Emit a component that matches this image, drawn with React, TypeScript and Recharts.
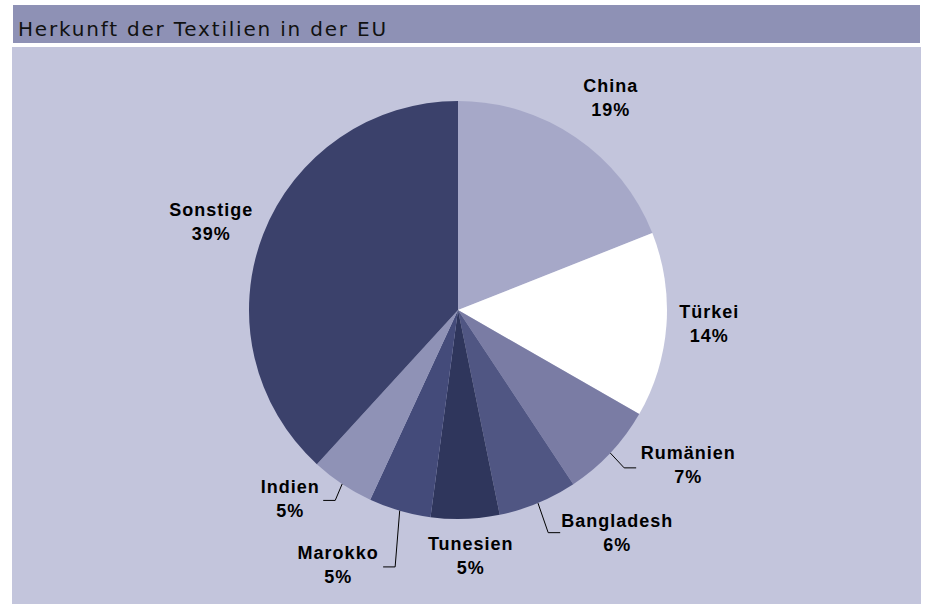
import React from 'react';
import { Cell, Pie, PieChart } from 'recharts';

const TITLE = 'Herkunft der Textilien in der EU';

const COUNTRIES = ['China', 'Türkei', 'Rumänien', 'Bangladesh', 'Tunesien', 'Marokko', 'Indien', 'Sonstige'];
const SHARES = [19.0, 14.3, 7.4, 6.1, 5.3, 4.8, 4.9, 38.2];
const SHARE_LABELS = ['19%', '14%', '7%', '6%', '5%', '5%', '5%', '39%'];
const COLORS = ['#a6a8c8', '#ffffff', '#7a7ca4', '#505683', '#2f365c', '#444b7a', '#8f92b6', '#3b416b'];

// label nudges relative to a point 45px outside the rim; leader = signed x distance to line end
const LABEL_LAYOUT = [
  { dx: 10, dy: -2, leader: 0, ly: 0 },
  { dx: -2, dy: -4, leader: 0, ly: 0 },
  { dx: 45, dy: -19, leader: -52, ly: 3 },
  { dx: 62, dy: -12, leader: -57, ly: 0 },
  { dx: 4, dy: -8, leader: 0, ly: 0 },
  { dx: -49, dy: 11, leader: 45, ly: 2 },
  { dx: -27, dy: -22, leader: 33, ly: 1 },
  { dx: -10, dy: 4, leader: 0, ly: 0 },
];

const data = COUNTRIES.map((name, i) => ({ name, value: SHARES[i], pct: SHARE_LABELS[i] }));

const RADIAN = Math.PI / 180;
const BG = '#c3c5dc';
const TITLE_BG = '#8e91b5';

const renderLabel = (props: any) => {
  const { cx, cy, midAngle, outerRadius, index } = props;
  const cos = Math.cos(-midAngle * RADIAN);
  const sin = Math.sin(-midAngle * RADIAN);
  const lay = LABEL_LAYOUT[index];
  const r = outerRadius + 45;
  const x = cx + r * cos + lay.dx;
  const y = cy + r * sin + lay.dy;
  let leader = null;
  if (lay.leader) {
    const sx = cx + outerRadius * cos;
    const sy = cy + outerRadius * sin;
    const ey = y + lay.ly;
    const ex = x + lay.leader;
    const elbowX = ex + Math.sign(lay.leader) * 12;
    leader = (
      <polyline
        points={`${sx},${sy} ${elbowX},${ey} ${ex},${ey}`}
        fill="none"
        stroke="#000"
        strokeWidth={1}
      />
    );
  }
  return (
    <g key={`lbl-${index}`}>
      {leader}
      <text
        x={x}
        y={y}
        textAnchor="middle"
        fill="#000"
        style={{ fontFamily: '"Liberation Sans", Arial, sans-serif', fontSize: 18, fontWeight: 'bold', letterSpacing: 1 }}
      >
        <tspan x={x} y={y - 6}>{COUNTRIES[index]}</tspan>
        <tspan x={x} y={y + 18}>{SHARE_LABELS[index]}</tspan>
      </text>
    </g>
  );
};

export default function App() {
  return (
    <div style={{ position: 'absolute', left: 0, top: 0, width: 925, height: 604, background: '#fff' }}>
      <div
        style={{
          position: 'absolute',
          left: 13,
          top: 5,
          width: 907,
          height: 38,
          background: TITLE_BG,
          fontFamily: '"DejaVu Sans", Verdana, sans-serif',
          fontSize: 20,
          letterSpacing: 1.8,
          color: '#111',
          lineHeight: '30px',
          paddingTop: 9,
          paddingLeft: 5,
          boxSizing: 'border-box',
        }}
      >
        {TITLE}
      </div>
      <div style={{ position: 'absolute', left: 12, top: 47, width: 909, height: 557, background: BG }}>
        <PieChart width={909} height={557} margin={{ top: 0, right: 0, bottom: 0, left: 0 }}>
          <Pie
            data={data}
            dataKey="value"
            nameKey="name"
            cx={446}
            cy={263}
            outerRadius={209}
            startAngle={90}
            endAngle={-270}
            stroke="none"
            label={renderLabel}
            labelLine={false}
            isAnimationActive={false}
          >
            {data.map((d, i) => (
              <Cell key={d.name} fill={COLORS[i]} />
            ))}
          </Pie>
        </PieChart>
      </div>
    </div>
  );
}
